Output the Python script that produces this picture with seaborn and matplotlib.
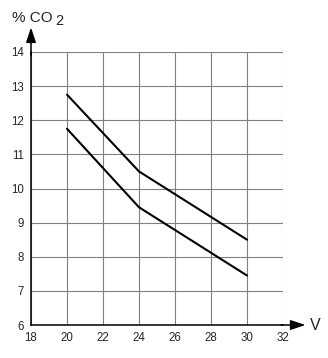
import matplotlib
matplotlib.use("Agg")
import matplotlib.pyplot as plt
import seaborn as sns
import pandas as pd

sns.set_theme(style="white")
plt.rcParams['font.family'] = ['Liberation Sans', 'DejaVu Sans']

voltage = [20, 24, 30]
upper_co2 = [12.75, 10.5, 8.5]
lower_co2 = [11.75, 9.45, 7.45]
x_ticks = [18, 20, 22, 24, 26, 28, 30, 32]
y_ticks = [6, 7, 8, 9, 10, 11, 12, 13, 14]

df = pd.DataFrame({
    "V": voltage + voltage,
    "CO2": upper_co2 + lower_co2,
    "series": ["upper"] * len(voltage) + ["lower"] * len(voltage),
})

fig = plt.figure(figsize=(3.28, 3.58), dpi=100)
ax = fig.add_axes([31/328, 1 - 325/358, (283 - 31)/328, (325 - 52)/358])

sns.lineplot(data=df, x="V", y="CO2", hue="series", palette=["black", "black"],
             linewidth=1.5, legend=False, ax=ax)

ax.set_xlim(18, 32)
ax.set_ylim(6, 14)
ax.set_xticks(x_ticks)
ax.set_yticks(y_ticks)
ax.set_xticklabels([str(t) for t in x_ticks], fontsize=8.3)
ax.set_yticklabels([str(t) for t in y_ticks], fontsize=8.3)
ax.set_xlabel("")
ax.set_ylabel("")
ax.grid(True, color="#808080", linewidth=0.8)
ax.set_axisbelow(True)
xgl = ax.get_xgridlines()
xgl[-1].set_color("#c0c0c0")
for s in ["top", "right"]:
    ax.spines[s].set_visible(False)
ax.spines["left"].set_color("black")
ax.spines["bottom"].set_color("black")
ax.spines["left"].set_linewidth(1.1)
ax.spines["bottom"].set_linewidth(1.1)
ax.tick_params(axis="both", which="both", length=3, width=0.8, color="black", pad=2)

# axis arrows
ax.annotate("", xy=(18, 14.72), xytext=(18, 13.9), xycoords="data",
            arrowprops=dict(arrowstyle="-|>,head_length=0.75,head_width=0.25",
                            color="black", lw=1.1, shrinkA=0, shrinkB=0),
            annotation_clip=False)
ax.annotate("", xy=(33.25, 6), xytext=(31.9, 6), xycoords="data",
            arrowprops=dict(arrowstyle="-|>,head_length=0.75,head_width=0.25",
                            color="black", lw=1.1, shrinkA=0, shrinkB=0),
            annotation_clip=False)

fig.text(12/328, 1 - 18/358, "% CO", fontsize=11, ha="left", va="center")
fig.text(55/328, 1 - 21/358, "2", fontsize=10.5, ha="left", va="center")
fig.text(310/328, 1 - 325/358, "V", fontsize=11.5, ha="left", va="center")

fig.savefig("out.png", dpi=100)
